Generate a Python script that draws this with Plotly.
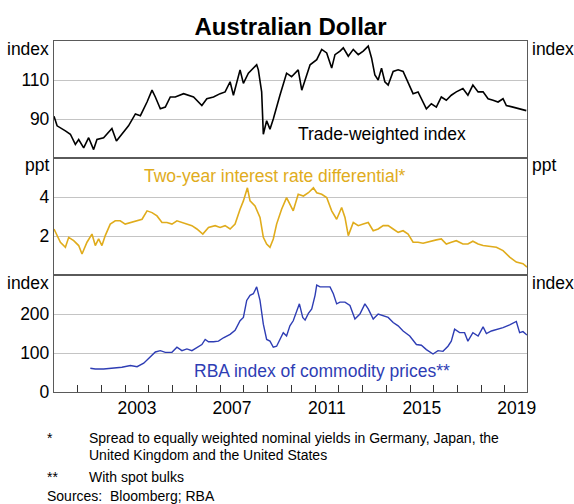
import plotly.graph_objects as go

# ---------------- data (decimal years) ----------------
twi_years = [2000.00, 2000.13, 2000.48, 2000.69, 2000.90, 2001.04, 2001.25, 2001.46, 2001.67, 2001.81,
             2002.09, 2002.44, 2002.63, 2002.86, 2003.14, 2003.43, 2003.64, 2003.92, 2004.13, 2004.27,
             2004.48, 2004.69, 2004.90, 2005.11, 2005.46, 2005.88, 2006.23, 2006.44, 2006.72, 2007.00,
             2007.21, 2007.42, 2007.56, 2007.84, 2007.98, 2008.19, 2008.33, 2008.54, 2008.61, 2008.75,
             2008.82, 2008.96, 2009.10, 2009.24, 2009.52, 2009.80, 2010.01, 2010.29, 2010.44, 2010.65,
             2010.79, 2011.07, 2011.28, 2011.49, 2011.70, 2011.84, 2012.05, 2012.19, 2012.40, 2012.61,
             2012.82, 2013.03, 2013.24, 2013.38, 2013.52, 2013.66, 2013.80, 2013.94, 2014.08, 2014.29,
             2014.50, 2014.71, 2014.92, 2015.13, 2015.34, 2015.55, 2015.69, 2015.90, 2016.11, 2016.32,
             2016.53, 2016.74, 2016.95, 2017.23, 2017.44, 2017.65, 2017.87, 2018.08, 2018.29, 2018.50,
             2018.71, 2018.92, 2019.06, 2019.34, 2019.62, 2019.90]
twi_values = [91.4, 86.5, 83.9, 82.2, 77.0, 79.5, 75.2, 80.4, 74.3, 79.5,
              80.4, 85.1, 78.7, 82.2, 86.5, 92.6, 91.7, 98.7, 104.8, 101.3,
              95.2, 96.1, 101.3, 101.3, 103.0, 101.3, 96.9, 100.4, 101.3, 103.0,
              103.9, 109.1, 102.2, 115.2, 108.3, 113.5, 115.2, 117.8, 115.2, 103.9,
              82.2, 89.1, 84.8, 90.0, 102.2, 113.5, 111.7, 115.2, 104.8, 112.6,
              117.8, 120.4, 125.7, 123.9, 116.1, 123.0, 124.8, 126.5, 122.2, 125.7,
              123.0, 124.8, 127.4, 121.3, 112.6, 110.0, 116.1, 109.1, 107.4, 114.4,
              115.2, 114.4, 109.1, 103.0, 103.9, 98.7, 95.2, 97.8, 96.1, 101.3,
              99.6, 102.2, 103.9, 105.6, 102.2, 107.4, 103.9, 103.9, 100.4, 99.6,
              98.7, 100.4, 96.9, 96.1, 95.2, 94.3]

ird_years = [2000.00, 2000.13, 2000.27, 2000.48, 2000.62, 2000.83, 2001.04, 2001.18, 2001.39, 2001.60,
             2001.74, 2001.88, 2002.02, 2002.16, 2002.37, 2002.58, 2002.79, 2003.00, 2003.22, 2003.50,
             2003.71, 2003.92, 2004.13, 2004.34, 2004.55, 2004.76, 2004.97, 2005.18, 2005.39, 2005.60,
             2005.81, 2006.02, 2006.27, 2006.51, 2006.79, 2007.00, 2007.21, 2007.42, 2007.63, 2007.84,
             2007.98, 2008.15, 2008.26, 2008.47, 2008.68, 2008.82, 2008.96, 2009.10, 2009.24, 2009.38,
             2009.59, 2009.80, 2009.94, 2010.08, 2010.29, 2010.51, 2010.72, 2010.93, 2011.07, 2011.28,
             2011.49, 2011.70, 2011.91, 2012.12, 2012.26, 2012.40, 2012.61, 2012.82, 2013.03, 2013.24,
             2013.45, 2013.66, 2013.87, 2014.08, 2014.29, 2014.50, 2014.71, 2014.92, 2015.13, 2015.34,
             2015.55, 2015.83, 2016.11, 2016.32, 2016.53, 2016.74, 2016.95, 2017.23, 2017.44, 2017.65,
             2017.87, 2018.08, 2018.36, 2018.64, 2018.92, 2019.20, 2019.48, 2019.76, 2019.93]
ird_values = [2.36, 2.02, 1.68, 1.42, 1.93, 1.76, 1.51, 1.08, 1.68, 2.10,
              1.51, 1.85, 1.51, 2.02, 2.61, 2.78, 2.78, 2.61, 2.69, 2.78,
              2.86, 3.29, 3.20, 3.03, 2.69, 2.69, 2.61, 2.78, 2.69, 2.61,
              2.53, 2.36, 2.10, 2.44, 2.53, 2.44, 2.53, 2.36, 2.61, 3.37,
              3.80, 4.47, 3.80, 3.54, 2.95, 1.93, 1.59, 1.42, 1.85, 2.61,
              3.37, 3.97, 3.63, 3.29, 4.14, 4.05, 4.22, 4.47, 4.22, 4.14,
              3.97, 3.29, 2.86, 3.46, 2.95, 2.02, 2.69, 2.53, 2.61, 2.69,
              2.27, 2.36, 2.53, 2.53, 2.36, 2.19, 2.27, 2.10, 1.68, 1.68,
              1.63, 1.73, 1.80, 1.85, 1.59, 1.68, 1.76, 1.59, 1.59, 1.73,
              1.59, 1.51, 1.46, 1.42, 1.25, 0.92, 0.66, 0.58, 0.41]

com_years = [2001.53, 2001.74, 2002.09, 2002.51, 2002.86, 2003.22, 2003.50, 2003.78, 2004.06, 2004.27,
             2004.48, 2004.69, 2004.97, 2005.18, 2005.39, 2005.60, 2005.81, 2006.02, 2006.23, 2006.37,
             2006.51, 2006.72, 2006.93, 2007.14, 2007.42, 2007.63, 2007.84, 2007.98, 2008.12, 2008.26,
             2008.40, 2008.54, 2008.68, 2008.82, 2008.96, 2009.10, 2009.24, 2009.38, 2009.52, 2009.66,
             2009.80, 2009.94, 2010.08, 2010.22, 2010.34, 2010.48, 2010.58, 2010.72, 2010.86, 2011.00,
             2011.07, 2011.21, 2011.42, 2011.63, 2011.77, 2011.91, 2012.05, 2012.26, 2012.47, 2012.68,
             2012.89, 2013.10, 2013.24, 2013.45, 2013.66, 2013.87, 2014.08, 2014.29, 2014.50, 2014.71,
             2014.99, 2015.27, 2015.48, 2015.69, 2015.97, 2016.18, 2016.39, 2016.60, 2016.74, 2016.88,
             2017.09, 2017.30, 2017.44, 2017.65, 2017.87, 2018.08, 2018.22, 2018.43, 2018.71, 2018.92,
             2019.20, 2019.48, 2019.62, 2019.76, 2019.93]
com_values = [61, 59, 59, 61, 63.5, 68, 65, 74, 91, 102.6,
              106, 101.7, 101.7, 114.8, 106, 110.4, 106, 114.8, 121.7, 134.8,
              128.7, 128.7, 130.4, 139, 147.8, 158.3, 182.6, 191.3, 234.8, 247.8,
              252, 269.6, 234.8, 174, 134.8, 130.4, 114.8, 117.4, 134.8, 152.2,
              143.5, 169.6, 182.6, 204.3, 226, 191.3, 184.3, 201.7, 213, 247.8,
              274, 269.6, 269.6, 269.6, 252, 226, 230.4, 230.4, 221.7, 187,
              200, 226, 213, 187, 200, 195.7, 191.3, 178.3, 169.6, 156.5,
              143.5, 121.7, 120, 108.7, 97.4, 106, 104.3, 117.4, 130.4, 160.9,
              152.2, 152.2, 130.4, 152.2, 143.5, 167, 149.6, 156.5, 160.9, 165.2,
              172.2, 180.9, 152.2, 154.8, 146]

assert len(twi_years) == len(twi_values), (len(twi_years), len(twi_values))
assert len(ird_years) == len(ird_values), (len(ird_years), len(ird_values))
assert len(com_years) == len(com_values), (len(com_years), len(com_values))

year_label_pos = [2003.5, 2007.5, 2011.5, 2015.5, 2019.5]
year_labels = ["2003", "2007", "2011", "2015", "2019"]
year_ticks = list(range(2001, 2020))

# ---------------- styling ----------------
FONT = "Arial, Liberation Sans, sans-serif"
FS = 17.5
GOLD = "#E0AC1C"
BLUE = "#2E3DB4"
FRAME = "#5a5a5a"
GRID = "#c4c4c4"
XR = [2000.0, 2019.93]
LW = 1.3

W, H = 574, 504
L, T, R, B = 54, 41, 574 - 527, 504 - 392

fig = go.Figure()
fig.add_trace(go.Scatter(x=twi_years, y=twi_values, mode="lines", xaxis="x3", yaxis="y5",
                         line=dict(color="black", width=1.6), showlegend=False))
fig.add_trace(go.Scatter(x=ird_years, y=ird_values, mode="lines", xaxis="x2", yaxis="y3",
                         line=dict(color=GOLD, width=1.6), showlegend=False))
fig.add_trace(go.Scatter(x=com_years, y=com_values, mode="lines", xaxis="x", yaxis="y",
                         line=dict(color=BLUE, width=1.4), showlegend=False))

d1, d2 = 1/3, 2/3
tickfont = dict(family=FONT, size=FS, color="black")

def left_axis(domain, rng, vals, anchor):
    return dict(domain=domain, range=rng, tickvals=vals, ticktext=[str(v) for v in vals],
                showgrid=True, gridcolor=GRID, gridwidth=1, zeroline=False,
                showline=True, mirror=True, linecolor=FRAME, linewidth=LW,
                ticks="", tickfont=tickfont, anchor=anchor, fixedrange=True)

def right_axis(rng, vals, overlay, anchor):
    return dict(range=rng, tickvals=vals, ticktext=[str(v) for v in vals], overlaying=overlay,
                side="right", showgrid=False, zeroline=False, showline=False, ticks="",
                tickfont=tickfont, anchor=anchor, fixedrange=True)

fig.update_layout(
    width=W, height=H,
    margin=dict(l=L, r=R, t=T, b=B),
    paper_bgcolor="white", plot_bgcolor="white",
    xaxis=dict(domain=[0, 1], range=XR, anchor="y", tickvals=year_label_pos, ticktext=year_labels,
               ticks="", showgrid=False, zeroline=False, showline=True, mirror=True,
               linecolor=FRAME, linewidth=LW, tickfont=tickfont, fixedrange=True,
               minor=dict(tickvals=year_ticks, ticks="inside", ticklen=7, tickcolor="#333",
                          tickwidth=1, showgrid=False)),
    xaxis2=dict(domain=[0, 1], range=XR, anchor="y3", showticklabels=False, ticks="",
                showgrid=False, zeroline=False, showline=True, mirror=True,
                linecolor=FRAME, linewidth=LW, fixedrange=True),
    xaxis3=dict(domain=[0, 1], range=XR, anchor="y5", showticklabels=False, ticks="",
                showgrid=False, zeroline=False, showline=True, mirror=True,
                linecolor=FRAME, linewidth=LW, fixedrange=True),
    yaxis=left_axis([0, d1], [0, 300], [0, 100, 200], "x"),
    yaxis2=right_axis([0, 300], [0, 100, 200], "y", "x"),
    yaxis3=left_axis([d1, d2], [0, 6], [2, 4], "x2"),
    yaxis4=right_axis([0, 6], [2, 4], "y3", "x2"),
    yaxis5=left_axis([d2, 1], [70, 130], [90, 110], "x3"),
    yaxis6=right_axis([70, 130], [90, 110], "y5", "x3"),
    title=dict(text="<b>Australian Dollar</b>", x=0.5, xref="paper", xanchor="center",
               y=1 - 27 / H, yref="container", yanchor="middle",
               font=dict(family=FONT, size=24, color="black")),
)

ann = []
# unit labels
for yref, yv in [("y5", 126), ("y3", 5.64), ("y", 279)]:
    unit = "ppt" if yref == "y3" else "index"
    ann.append(dict(text=unit, xref="paper", x=0, xanchor="right", xshift=-3, yref=yref, y=yv,
                    yanchor="middle", showarrow=False, font=tickfont))
    ann.append(dict(text=unit, xref="paper", x=1, xanchor="left", xshift=3, yref=yref, y=yv,
                    yanchor="middle", showarrow=False, font=tickfont))
# series labels
ann.append(dict(text="Trade-weighted index", xref="x3", yref="y5", x=2013.81, y=82.2,
                showarrow=False, font=dict(family=FONT, size=FS, color="black")))
ann.append(dict(text="Two-year interest rate differential*", xref="x2", yref="y3", x=2009.32, y=5.07,
                showarrow=False, font=dict(family=FONT, size=FS, color=GOLD)))
ann.append(dict(text="RBA index of commodity prices**", xref="x", yref="y", x=2011.28, y=54,
                showarrow=False, font=dict(family=FONT, size=FS, color=BLUE)))

# footnotes (positions in page pixels)
def px_to_paper(px, py):
    return (px - L) / (W - L - R), (H - B - py) / (H - T - B)

notes = [
    (45, 438, "*"),
    (87, 438, "Spread to equally weighted nominal yields in Germany, Japan, the"),
    (87, 455, "United Kingdom and the United States"),
    (45, 477, "**"),
    (87, 477, "With spot bulks"),
    (45, 496, "Sources:  Bloomberg; RBA"),
]
for px, py, t in notes:
    xp, yp = px_to_paper(px, py)
    ann.append(dict(text=t, xref="paper", yref="paper", x=xp, y=yp, xanchor="left",
                    yanchor="middle", showarrow=False,
                    font=dict(family=FONT, size=14, color="black")))

fig.update_layout(annotations=ann)
# remove the default page margin so the 574x504 figure fills the window exactly
fig.write_html("out.html", config={"displayModeBar": False},
               post_script="document.body.style.margin='0';document.body.style.overflow='hidden';")
